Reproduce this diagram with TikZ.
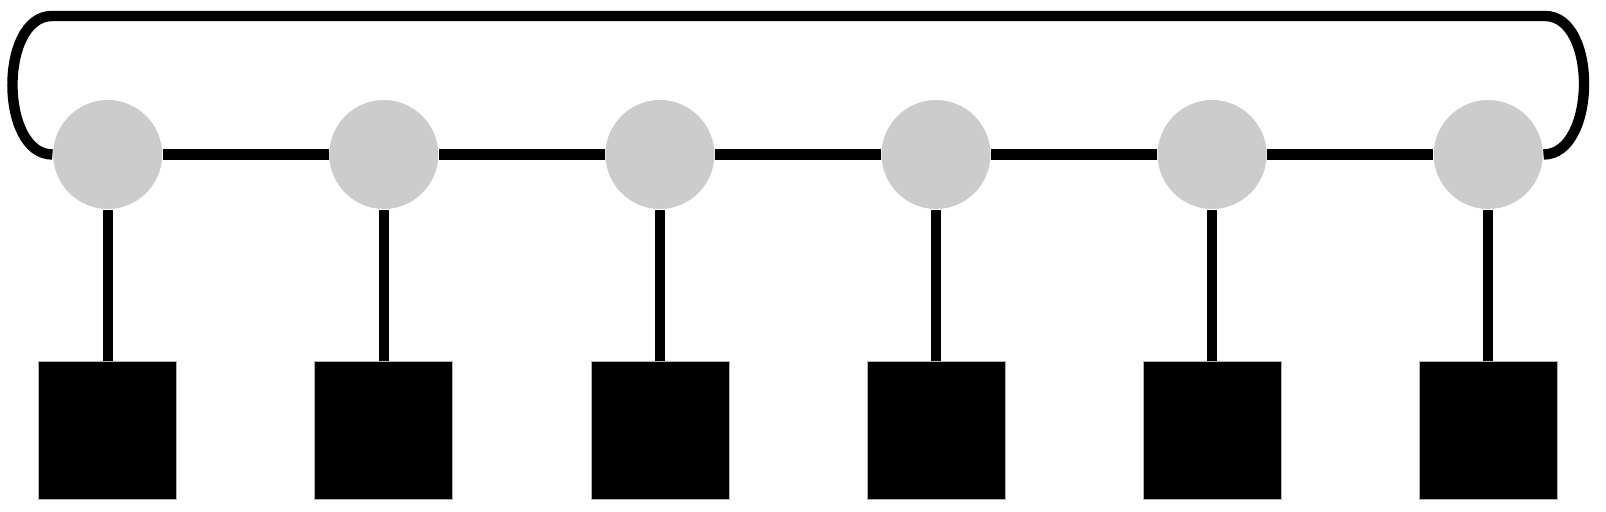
\documentclass[tikz,border=0pt]{standalone}
\begin{document}
\begin{tikzpicture}[x=0.5pt,y=-0.5pt,
  site/.style={circle,fill=black!20,draw=white,line width=0.7pt,minimum size=55.3pt,inner sep=0pt,outer sep=0pt},
  leg/.style={rectangle,fill=black,draw=black!30,line width=0.4pt,minimum size=69pt,inner sep=0pt,outer sep=0.3pt},
  bond/.style={line width=5.2pt,black}]
\useasboundingbox (0,0) rectangle (1606,512);
\foreach \i in {1,...,6}{
  \pgfmathsetmacro{\xx}{107.7+276.1*(\i-1)}
  \node[site] (c\i) at (\xx,154.5) {};
  \node[leg] (s\i) at (\xx,430.6) {};
}
\foreach \i/\j in {1/2,2/3,3/4,4/5,5/6}{
  \draw[bond] (c\i) -- (c\j);
}
\foreach \i in {1,...,6}{
  \draw[bond] (c\i) -- (s\i.north);
}
\coordinate (tl) at (52,16);
\coordinate (tr) at (1545,16);
\draw[bond] (c1.west) .. controls +(-53,0) and +(-53,0) .. (tl) -- (tr) .. controls +(53,0) and +(53,0) .. (c6.east);
\end{tikzpicture}
\end{document}
